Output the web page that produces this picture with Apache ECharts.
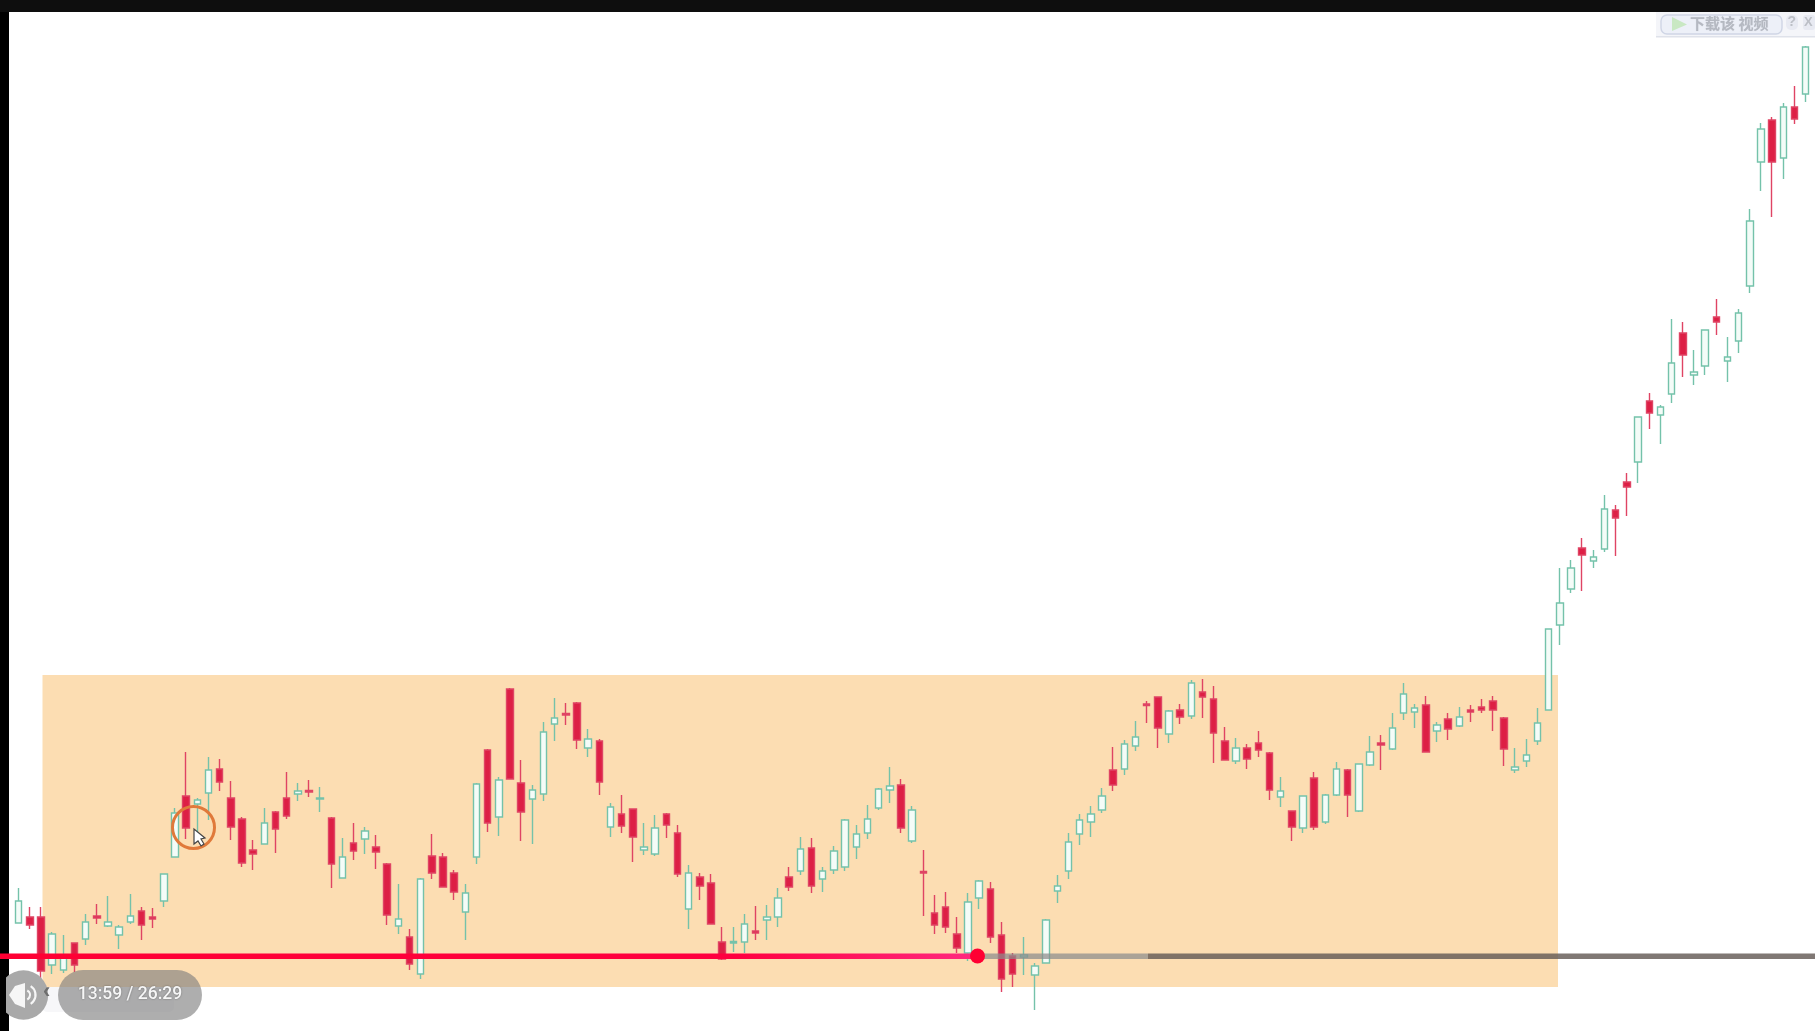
<!DOCTYPE html>
<html><head><meta charset="utf-8">
<style>html,body{margin:0;padding:0;background:#fff}#c{width:1815px;height:1031px}</style>
<script src="https://cdn.jsdelivr.net/npm/echarts@6/dist/echarts.min.js"></script>
</head><body><div id="c"></div>
<script>
const direction = ("GRRGGRGRGG"+"GRRGGRGGRR"+"RRGRRGRGRG"+"RGRRGRGRRR"+"GGRGRRGGGR"+"RGRGRRGGRR"+"GRRRGGRGGR"+"GRGGGGGGGR"+"GRRRRGGRRR"+"GGGGGGGGRG"+"GRRGRGRRRG"+"RRRGRGRGGR"+"GGRGGGRGRG"+"RRRRGGGGGG"+"RGGRRGRGGR"+"GGRGGGGRGRG").split("");
const highs = [143,124,124,99,96,88,117,127,135,106,
137,124,123,157,223,279,233,274,272,250,
214,191,223,220,259,248,251,244,214,193,
208,204,196,168,147,102,153,197,178,161,
147,248,282,254,343,271,246,309,333,328,
329,302,292,228,236,222,208,216,218,206,
166,158,157,104,104,117,125,126,143,164,
194,193,164,185,212,206,226,243,264,252,
225,181,136,139,114,138,151,149,109,78,
94,68,112,156,198,217,225,243,284,291,
310,330,334,321,327,351,352,345,304,293,
287,300,279,254,220,235,259,237,269,262,
267,295,296,318,348,327,335,309,318,324,
326,332,335,314,283,292,323,402,463,471,
493,481,536,526,558,614,638,626,712,709,
681,701,732,694,722,822,908,914,928,945,985];
const bodyTops = [130,114,114,97,73,88,109,115,109,104,
115,120,114,157,218,235,231,261,262,233,
212,181,208,219,233,240,240.5,233,213,174,
188,200,184,167,112,94,152,175,174,158,
138,247,281,251,342,248,241,299,313,317.5,
328,292,290,224,217,222,184,203,217,198,
158,154,148,89,89.5,107,100,114,133,154,
182,183,160,180,211,197,212,242,245,246,
221,159.5,118,124,97,129,150,142,96,75,
76,65,111,145,189,211,217,235,261,287,
294,327,334,320,321,348,339,332,290,283,
283,288,278,240,220,235,253,236,262,261,
267,279,288,303,337,323,326,306,312,314,
321,324,330,313,264,276,308,402,428,463,
483,474,522,521,549,614,630,624,668,698,
659,701,714,674,718,810,902,911,924,924,984];
const bodyBottoms = [108,106,60,66,61,66,92,113,105,96,
109,106,112,130,174,203,227,238,249,204,
168,177,187,202,215,237,239,232,167,153,
180,192,179,116,105,67,57,158,144,139,
119,174,208,214,252,219,232,237,307,316,
291,283,249,204,205,194,181,177,206,157,
122,145,107,72,88,89,98,111,114,144,
160,145,152,161,164,184,198,223,241,203,
190,158,106,104,83,78,133,94,52,57,
74,56,68,140,160,197,209,221,246,262,
285,325.5,303,297,314,315,334,298,271,270,
272,281,241,234,204,203,204,209,236,236,
220,266,286,282,318,319,279,300,302,305,
319,321,321,282,261,270,290,321,406,442,
476,470,482,513,544,569,618,616,637,676,
656,665,709,670,690,745,869,869,873,912,937];
const lows = [108,102,46,57,58,59,86,107,104,82,
107,91,103,124,174,192,198,211,240,191,
164,161,187,178,212,230,234,219,143,153,
171,177,162,106,97,61,52,152,144,131,
91,167,199,195,252,190,187,230,290,306,
282,274,236,194,198,169,176,175,193,154,
102,131,107,71,79,78,91,91,104,140,
156,138,139,157,160,172,192,221,228,198,
188,115,97,98,78,70,122,88,39,44,
56,21,68,128,152,186,194,218,240,256,
280,308,283,288,307,312,313,268,271,267,
262,274,231,224,190,198,201,207,235,214,
219,265,261,281,311,303,279,289,291,304,
309,318,300,265,258,264,286,321,386,438,
440,463,479,475,515,548,602,587,628,654,
646,656,696,649,678,738,840,814,852,907,929];
const categories = direction.map((_, i) => String(i + 1));
const playerTime = "13:59 / 26:29";
const downloadLabel = "下载该 视频";

const candles = direction.map((d, i) => d === "G"
  ? [bodyBottoms[i], bodyTops[i], lows[i], highs[i]]
  : [bodyTops[i], bodyBottoms[i], lows[i], highs[i]]);

const chart = echarts.init(document.getElementById("c"), null, {renderer: "canvas"});
chart.setOption({
  animation: false,
  backgroundColor: "#ffffff",
  grid: {left: 13, right: 3.8, top: 0, bottom: 0},
  xAxis: {type: "category", data: categories, show: false},
  yAxis: {type: "value", min: 0, max: 1031, show: false, splitLine: {show: false}},
  series: [{
    type: "candlestick",
    data: candles,
    barWidth: 7,
    itemStyle: {
      color: "#f4fcf8", color0: "#dd1f45",
      borderColor: "#74c2aa", borderColor0: "#df4464",
      borderWidth: 1.4
    },
    markArea: {
      silent: true,
      itemStyle: {color: "#fcddb2", opacity: 1},
      data: [[{x: 42.5, y: 675}, {x: 1558, y: 987}]]
    }
  }],
  graphic: [
    {type: "rect", z: 50, shape: {x: 0, y: 0, width: 9, height: 1031}, style: {fill: "#000"}},
    {type: "rect", z: 50, shape: {x: 0, y: 0, width: 1815, height: 12}, style: {fill: "#0e0e0e"}},
    // download widget
    {type: "rect", z: 50, shape: {x: 1656, y: 12, width: 159, height: 25}, style: {fill: "#f4f5f9"}},
    {type: "rect", z: 50, shape: {x: 1656, y: 36, width: 159, height: 1.5}, style: {fill: "#dfe2ea"}},
    {type: "rect", z: 51, shape: {x: 1661, y: 15, width: 121, height: 19, r: 6}, style: {fill: "#edf0f8", stroke: "#cfd5e5", lineWidth: 1.4}},
    {type: "polygon", z: 52, shape: {points: [[1672, 17], [1687, 24.5], [1672, 31]]}, style: {fill: "#c9e8c3"}},
    {type: "text", z: 52, x: 1690, y: 15.5, style: {text: downloadLabel, font: "bold 15px 'Noto Sans CJK SC'", fill: "#b5b9c2", textShadowColor: "rgba(181,185,194,0.6)", textShadowBlur: 1}},
    {type: "rect", z: 51, shape: {x: 1786, y: 15, width: 12, height: 15, r: 5}, style: {fill: "#e8eaf2"}},
    {type: "rect", z: 51, shape: {x: 1803, y: 15, width: 12, height: 15, r: 3}, style: {fill: "#e8eaf2"}},
    {type: "text", z: 52, x: 1787.5, y: 15, style: {text: "?", font: "bold 14px 'Liberation Sans'", fill: "#bcbfc6"}},
    {type: "text", z: 52, x: 1804, y: 16, style: {text: "X", font: "bold 13px 'Liberation Sans'", fill: "#bcbfc6"}},
    // annotation circle and cursor
    {type: "circle", z: 60, shape: {cx: 193.5, cy: 827.5, r: 21}, style: {fill: "none", stroke: "#e0793a", lineWidth: 3}},
    {type: "polygon", z: 61, shape: {points: [[194, 829], [194, 844], [198, 841], [201, 846], [204, 844], [201, 839], [205, 838]]}, style: {fill: "#fff", stroke: "#444", lineWidth: 1.2}},
    // progress bar
    {type: "rect", z: 70, shape: {x: 1148, y: 953.5, width: 667, height: 5.5}, style: {fill: "rgba(100,90,85,0.82)"}},
    {type: "rect", z: 70, shape: {x: 978, y: 953.5, width: 170, height: 5.5}, style: {fill: "rgba(140,140,140,0.72)"}},
    {type: "rect", z: 71, shape: {x: 0, y: 953.5, width: 978, height: 5.5},
      style: {fill: new echarts.graphic.LinearGradient(0, 0, 1, 0, [
        {offset: 0, color: "#ff0033"}, {offset: 0.75, color: "#ff0040"}, {offset: 1, color: "#ff2a80"}])}},
    {type: "circle", z: 72, shape: {cx: 977.5, cy: 956, r: 7.5}, style: {fill: "#ff0033"}},
    // player controls
    {type: "rect", z: 73, shape: {x: 42, y: 987, width: 132, height: 25, r: 5}, style: {fill: "rgba(246,246,248,0.9)"}},
    {type: "circle", z: 74, shape: {cx: 23.5, cy: 995, r: 24.7}, style: {fill: "#a9a9a9"}},
    {type: "rect", z: 74.5, shape: {x: 0, y: 965, width: 6, height: 60}, style: {fill: "#000"}},
    {type: "polygon", z: 75, shape: {points: [[9, 995], [15, 986], [25, 983], [25, 1008], [15, 1004]]}, style: {fill: "#f6f6f6"}},
    {type: "arc", z: 75, shape: {cx: 25, cy: 995, r: 5, startAngle: -1.1, endAngle: 1.1}, style: {fill: "none", stroke: "#f6f6f6", lineWidth: 2.2}},
    {type: "arc", z: 75, shape: {cx: 25, cy: 995, r: 10.5, startAngle: -1.0, endAngle: 1.0}, style: {fill: "none", stroke: "#f6f6f6", lineWidth: 2.2}},
    {type: "text", z: 75, x: 43, y: 981, style: {text: "‹", font: "bold 22px 'Liberation Sans'", fill: "#6e6e6e"}},
    {type: "rect", z: 76, shape: {x: 58, y: 970, width: 144, height: 50, r: 25}, style: {fill: "rgba(125,125,125,0.62)"}},
    {type: "text", z: 77, x: 130, y: 995, style: {text: playerTime, font: "500 17.5px 'Roboto'", fill: "#f6f6f6", align: "center", verticalAlign: "middle", textShadowColor: "rgba(0,0,0,0.4)", textShadowBlur: 2}}
  ]
});
</script></body></html>
